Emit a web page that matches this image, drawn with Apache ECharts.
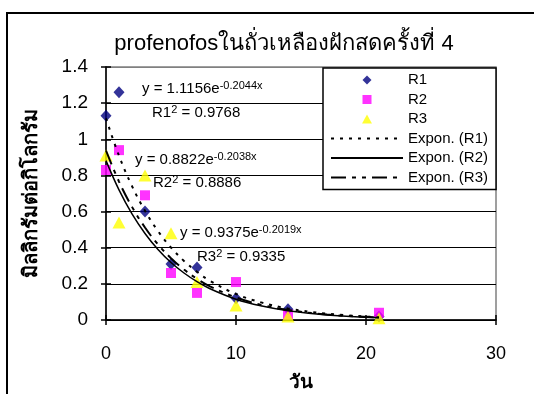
<!DOCTYPE html>
<html>
<head>
<meta charset="utf-8">
<style>html,body{margin:0;padding:0;background:#fff;}#c{width:534px;height:394px;}</style>
<script src="https://cdn.jsdelivr.net/npm/echarts@6/dist/echarts.min.js"></script>
</head>
<body>
<div id="c"></div>
<script>
const titleText = 'profenofosในถั่วเหลืองฝักสดครั้งที่ 4';
const xName = 'วัน';
const yName = 'มิลลิกรัมต่อกิโลกรัม';
const days = [0, 1, 3, 5, 7, 10, 14, 21];
const R1 = [1.13, 1.26, 0.60, 0.31, 0.29, 0.12, 0.06, 0.02];
const R2 = [0.83, 0.94, 0.69, 0.26, 0.15, 0.21, 0.03, 0.04];
const R3 = [0.91, 0.54, 0.80, 0.48, 0.21, 0.08, 0.02, 0.01];
const trendX = [0, 1, 2, 3, 4, 5, 6, 7, 8, 10, 12, 14, 17, 21];
const trendR1 = [1.116, 0.909, 0.741, 0.604, 0.492, 0.401, 0.327, 0.267, 0.217, 0.144, 0.096, 0.064, 0.035, 0.015];
const trendR2 = [0.882, 0.720, 0.587, 0.479, 0.390, 0.318, 0.260, 0.212, 0.173, 0.115, 0.077, 0.051, 0.028, 0.012];
const trendR3 = [0.938, 0.766, 0.626, 0.512, 0.418, 0.342, 0.279, 0.228, 0.186, 0.125, 0.083, 0.056, 0.030, 0.014];
const eqText = [
  ['y = 1.1156e', '-0.2044x', 'R1', ' = 0.9768'],
  ['y = 0.8822e', '-0.2038x', 'R2', ' = 0.8886'],
  ['y = 0.9375e', '-0.2019x', 'R3', ' = 0.9335']
];
const xTicks = {min: 0, max: 30, interval: 10};
const yTicks = {min: 0, max: 1.4, interval: 0.2};

const FONT = '"Liberation Sans", Arial, sans-serif';
const pair = (xs, ys) => xs.map((x, i) => [x, ys[i]]);

const chart = echarts.init(document.getElementById('c'), null, {renderer: 'canvas'});

const rich = {
  a: {fontFamily: FONT, fontSize: 15, color: '#000', lineHeight: 17},
  s: {fontFamily: FONT, fontSize: 11, color: '#000', verticalAlign: 'top', lineHeight: 17}
};
const eqPos = [[142, 89, 152, 113], [135, 160, 153, 183], [180, 233, 197, 257]];
const eqGraphics = [];
eqText.forEach((t, i) => {
  const p = eqPos[i];
  eqGraphics.push({type: 'text', x: p[0], y: p[1], z: 50, style: {text: '{a|' + t[0] + '}{s|' + t[1] + '}', rich: rich, align: 'left', verticalAlign: 'middle'}});
  eqGraphics.push({type: 'text', x: p[2], y: p[3], z: 50, style: {text: '{a|' + t[2] + '}{s|2}{a|' + t[3] + '}', rich: rich, align: 'left', verticalAlign: 'middle'}});
});

const splitColors = ['#000', '#000', '#000', '#000', '#000', '#000', '#000', '#808080'];
const noDot = {color: 'rgba(0,0,0,0)', borderColor: 'rgba(0,0,0,0)', borderWidth: 0};

const option = {
  animation: false,
  backgroundColor: '#fff',
  title: {
    text: titleText, left: 279, top: 28, textAlign: 'center',
    textStyle: {fontFamily: FONT, fontSize: 22, fontWeight: 'normal', color: '#000'}
  },
  grid: {left: 106, right: 38, top: 67, bottom: 74, containLabel: false, outerBoundsMode: 'none', show: true, borderColor: '#808080', borderWidth: 1.5, backgroundColor: 'transparent'},
  legend: {
    orient: 'vertical', left: 323, top: 68,
    backgroundColor: '#fff', borderColor: '#000', borderWidth: 1.5, borderRadius: 0,
    padding: [4, 8, 4, 7], itemGap: 3.5, itemWidth: 72, itemHeight: 9,
    textStyle: {fontFamily: FONT, fontSize: 15, color: '#000', lineHeight: 16},
    z: 20,
    data: [
      {name: 'R1', icon: 'path://M5,0 L10,5 L5,10 L0,5 Z'},
      {name: 'R2', icon: 'path://M0,0 L10,0 L10,10 L0,10 Z'},
      {name: 'R3', icon: 'path://M5.5,0 L11,10 L0,10 Z'},
      {name: 'Expon. (R1)', itemStyle: noDot},
      {name: 'Expon. (R2)', itemStyle: noDot},
      {name: 'Expon. (R3)', itemStyle: noDot}
    ]
  },
  xAxis: [
    {
      type: 'value', min: xTicks.min, max: xTicks.max, interval: xTicks.interval,
      name: xName, nameLocation: 'middle', nameGap: 53,
      nameTextStyle: {fontFamily: FONT, fontSize: 19, fontWeight: 'bold', color: '#000'},
      axisLine: {show: true, onZero: false, lineStyle: {color: '#000', width: 1.5}},
      axisTick: {show: true, inside: false, length: 5, lineStyle: {color: '#000', width: 1.5}},
      axisLabel: {fontFamily: FONT, fontSize: 18, color: '#000', margin: 25},
      splitLine: {show: false}
    },
    {
      type: 'value', min: xTicks.min, max: xTicks.max, interval: xTicks.interval, position: 'bottom',
      axisLine: {show: false}, axisLabel: {show: false}, splitLine: {show: false},
      axisTick: {show: true, inside: true, length: 5, lineStyle: {color: '#000', width: 1.5}}
    }
  ],
  yAxis: [
    {
      type: 'value', min: yTicks.min, max: yTicks.max, interval: yTicks.interval,
      name: yName, nameLocation: 'middle', nameGap: 65,
      nameTextStyle: {fontFamily: FONT, fontSize: 20, fontWeight: 'bold', color: '#000'},
      axisLine: {show: true, onZero: false, lineStyle: {color: '#000', width: 1.5}},
      axisTick: {show: true, inside: false, length: 5, lineStyle: {color: '#000', width: 1.5}},
      axisLabel: {fontFamily: FONT, fontSize: 19, color: '#000', margin: 18, formatter: v => String(+v.toFixed(1))},
      splitLine: {show: true, lineStyle: {color: splitColors, width: 1.2}}
    },
    {
      type: 'value', min: yTicks.min, max: yTicks.max, interval: yTicks.interval, position: 'left',
      axisLine: {show: false}, axisLabel: {show: false}, splitLine: {show: false},
      axisTick: {show: true, inside: true, length: 5, lineStyle: {color: '#000', width: 1.5}}
    }
  ],
  graphic: [
    {type: 'rect', z: 0, shape: {x: 7, y: 13, width: 600, height: 500}, style: {fill: null, stroke: '#000', lineWidth: 2}}
  ].concat(eqGraphics),
  series: [
    {name: 'R1', type: 'scatter', data: pair(days, R1), symbol: 'diamond', symbolSize: [11, 12], itemStyle: {color: '#000080'}, z: 3},
    {name: 'R2', type: 'scatter', data: pair(days, R2), symbol: 'rect', symbolSize: 10, itemStyle: {color: '#FF00FF'}, z: 3},
    {name: 'R3', type: 'scatter', data: pair(days, R3), symbol: 'triangle', symbolSize: [13, 12], itemStyle: {color: '#FFFF00'}, z: 3},
    {name: 'Expon. (R1)', type: 'line', data: pair(trendX, trendR1), smooth: 0.4, symbol: 'none', lineStyle: {color: '#000', width: 2, type: [3, 6]}, itemStyle: {color: '#000'}, z: 4},
    {name: 'Expon. (R2)', type: 'line', data: pair(trendX, trendR2), smooth: 0.4, symbol: 'none', lineStyle: {color: '#000', width: 1.5, type: 'solid'}, itemStyle: {color: '#000'}, z: 4},
    {name: 'Expon. (R3)', type: 'line', data: pair(trendX, trendR3), smooth: 0.4, symbol: 'none', lineStyle: {color: '#000', width: 2, type: [15, 6, 4, 6, 4, 6]}, itemStyle: {color: '#000'}, z: 4}
  ]
};
chart.setOption(option);
</script>
</body>
</html>
